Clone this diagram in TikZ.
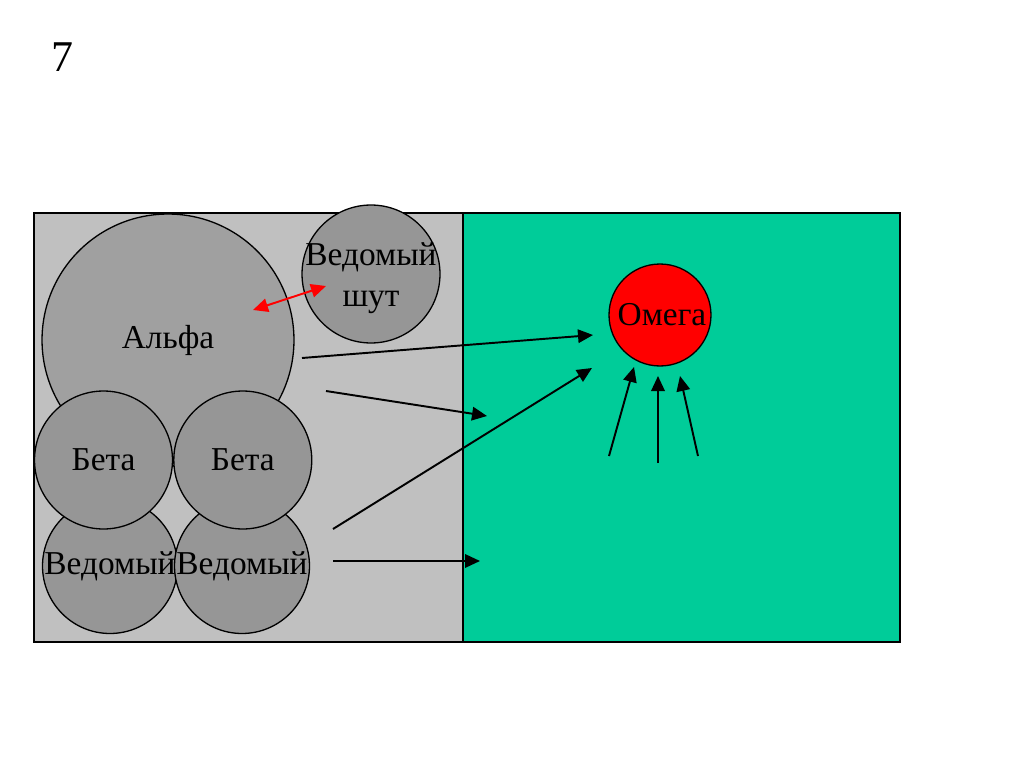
\documentclass[tikz,border=0pt]{standalone}
\usepackage{fontspec}
\setmainfont{Liberation Serif}
\usetikzlibrary{positioning,arrows.meta}
\definecolor{stGray}{RGB}{192,192,192}
\definecolor{stGreen}{RGB}{0,204,153}
\definecolor{stCircle}{RGB}{150,150,150}
\definecolor{stAlpha}{RGB}{160,160,160}
\definecolor{stRed}{RGB}{255,0,0}

\begin{document}
\begin{tikzpicture}[
    x=0.02cm, y=-0.02cm,
    font=\fontsize{19}{23}\selectfont,
    zone/.style={draw=black, line width=0.6pt},
    member/.style={circle, draw=black, line width=0.75pt, fill=stCircle, inner sep=0pt, minimum size=2.76cm},
    leader/.style={member, fill=stAlpha, minimum size=5.04cm},
    wingman/.style={member, minimum size=2.7cm},
    target/.style={member, fill=stRed, minimum size=2.04cm},
    caption/.style={inner sep=0pt, align=center},
    move/.style={-{Triangle[length=0.3cm,width=0.27cm]}, line width=1.1pt},
    clash/.style={{Triangle[length=0.3cm,width=0.27cm]}-{Triangle[length=0.3cm,width=0.27cm]}, draw=stRed, line width=1.1pt}
]
  \useasboundingbox (0,0) rectangle (1024,767);
  \fill[white] (0,0) rectangle (1024,767);

  \node[font=\fontsize{25}{29}\selectfont] (slideNo) at (62,57) {7};

  % the two zones
  \draw[zone, fill=stGray] (34,213) rectangle (463,642);
  \draw[zone, fill=stGreen] (463,213) rectangle (900,642);

  \node[leader] (alpha) at (168,340) {};
  \node[member] (jester) at (371,274) {};
  \node[wingman] (vedL) at (110,566) {};
  \node[wingman] (vedR) at (242,566) {};
  \node[member] (betaL) at (103.5,460) {};
  \node[member] (betaR) [right=0pt of betaL] {};
  \node[target] (omega) at (660,315) {};

  \node[caption] (alphaTxt) at (alpha) {Альфа};
  \node[caption] (jesterTxt) at (371,278) {Ведомый\\шут};
  \node[caption] (betaLTxt) at (betaL) {Бета};
  \node[caption] (betaRTxt) at (betaR) {Бета};
  \node[caption] (vedLTxt) at (vedL) {Ведомый};
  \node[caption] (vedRTxt) at (vedR) {Ведомый};
  \node[caption] (omegaTxt) at (662,315) {Омега};

  % arrow ends
  \coordinate (c1) at (302,358);  \coordinate (t1) at (593,335);
  \coordinate (c2) at (326,391);  \coordinate (t2) at (487,416);
  \coordinate (c3) at (333,529);  \coordinate (t3) at (592,368);
  \coordinate (c4) at (333,561);  \coordinate (t4) at (480,561);
  \coordinate (u1) at (609,456);  \coordinate (v1) at (634,367);
  \coordinate (u2) at (658,463);  \coordinate (v2) at (658,376);
  \coordinate (u3) at (698,456);  \coordinate (v3) at (680,376);
  \coordinate (r1) at (253,310);  \coordinate (r2) at (326,286);

  \draw[move] (c1) -- (t1);
  \draw[move] (c2) -- (t2);
  \draw[move] (c3) -- (t3);
  \draw[move] (c4) -- (t4);
  \draw[move] (u1) -- (v1);
  \draw[move] (u2) -- (v2);
  \draw[move] (u3) -- (v3);
  \draw[clash] (r1) -- (r2);
\end{tikzpicture}
\end{document}
